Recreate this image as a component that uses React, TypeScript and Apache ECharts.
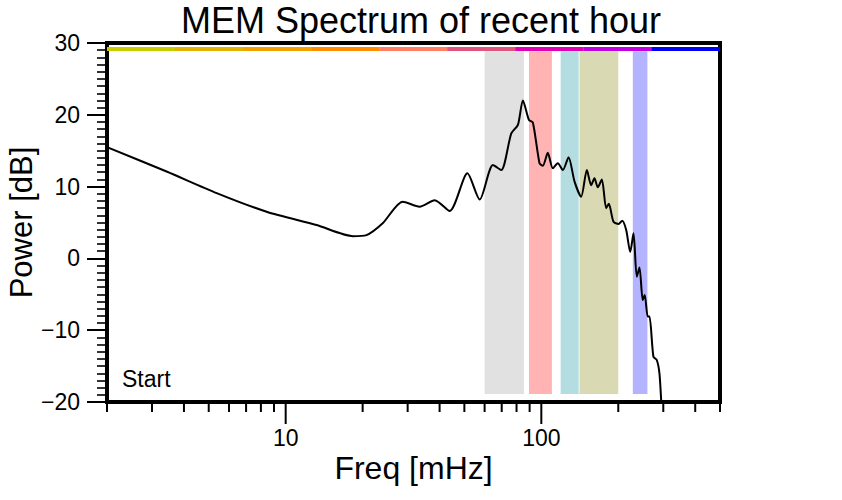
import React, { useEffect, useRef } from 'react';
import * as echarts from 'echarts';

// Spectrum curve (frequency in mHz, power in dB)
const freqMHz = [2, 3.42, 5.37, 8.42, 13.2, 18.35, 20.7, 23.96, 28.7, 33.4, 38.3, 43.8, 51.4, 57.4, 64.7, 69.7, 76.3, 81.0, 84.7, 89.4, 92.7, 98.4, 101.4, 106, 110.9, 116, 121.4, 127.8, 134.9, 143.2, 150.7, 156.7, 161.4, 166.3, 172.5, 179.3, 183.6, 191.6, 200.4, 207.2, 214.8, 222.7, 229.4, 236.3, 242.1, 249.3, 253.8, 260.8, 264.9, 274.5, 282.9, 289.8, 294.3, 297];
const powerDb = [15.5, 12.1, 9.1, 6.5, 4.65, 3.1, 3.25, 4.9, 7.9, 7.2, 8.1, 6.6, 11.85, 8.2, 13.0, 12.3, 17.4, 18.6, 22.0, 19.3, 18.9, 13.25, 12.9, 14.7, 12.55, 13.25, 12.3, 14.1, 10.7, 8.6, 12.3, 10.2, 11.15, 9.9, 11.0, 7.0, 7.6, 5.1, 4.8, 5.25, 3.95, 0.9, 3.5, -2.55, -1.25, -5.8, -5.1, -8.1, -8.1, -13.7, -14.15, -16.0, -19.7, -22];

// Shaded frequency bands
const bandLo = [60, 89.5, 119, 141, 228];
const bandHi = [85.5, 110, 140, 200, 260];
const bandColors = ['#e1e1e1', '#ffb3b3', '#b3dde0', '#d9d9b3', '#b3b3ff'];

// Coloured strip along the top
const stripEdges = [2, 3.69, 6.81, 12.57, 23.2, 42.8, 79.0, 145.8, 269.1, 500];
const stripColors = ['#c8cc00', '#e0b400', '#f2a200', '#ff8c00', '#ff7f66', '#e05580', '#e000b4', '#c000e0', '#0000f0'];

// Axis ticks
const xTickValues = [2, 3, 4, 5, 6, 7, 8, 9, 10, 20, 30, 40, 50, 60, 70, 80, 90, 100, 200, 300, 400, 500];
const xMajorTicks = [10, 100];
const xLabelValues = [10, 100];

const FONT = 'Liberation Sans, Arial, sans-serif';

export default function App() {
  const ref = useRef<HTMLDivElement>(null);
  useEffect(() => {
    if (!ref.current) return;
    const chart = echarts.init(ref.current, null, { renderer: 'svg' });
    const BAND_TOP = 28.85;
    const BAND_BOTTOM = -18.9;
    const STRIP_TOP = 29.45;
    const STRIP_BOTTOM = 28.9;
    chart.setOption({
      animation: false,
      backgroundColor: '#fff',
      title: {
        text: 'MEM Spectrum of recent hour',
        left: 'center',
        top: 1,
        padding: 0,
        textStyle: { fontSize: 36, fontWeight: 'normal', color: '#000', fontFamily: FONT, lineHeight: 38 },
      },
      grid: {
        left: 107, top: 43, width: 613, height: 359,
        show: true, borderColor: '#000', borderWidth: 4, backgroundColor: 'transparent',
        containLabel: false, outerBoundsMode: 'none',
      },
      xAxis: {
        type: 'log', logBase: 10, min: 2, max: 500,
        name: 'Freq [mHz]', nameLocation: 'middle', nameGap: 50, nameMoveOverlap: false,
        nameTextStyle: { fontSize: 32, color: '#000', fontFamily: FONT },
        axisLine: { show: true, onZero: false, lineStyle: { color: '#000', width: 3 } },
        axisTick: { show: false },
        minorTick: { show: false },
        splitLine: { show: false },
        axisLabel: {
          color: '#000', fontSize: 23, fontFamily: FONT, margin: 24,
          formatter: (v: number) => (xLabelValues.some((t) => Math.abs(t - v) < 1e-6) ? String(v) : ''),
          showMinLabel: true, showMaxLabel: true,
        },
      },
      yAxis: {
        type: 'value', min: -20, max: 30, interval: 10,
        name: 'Power [dB]', nameLocation: 'middle', nameGap: 70, nameMoveOverlap: false,
        nameTextStyle: { fontSize: 31, lineHeight: 31, color: '#000', fontFamily: FONT },
        axisLine: { show: true, onZero: false, lineStyle: { color: '#000', width: 3 } },
        axisTick: { show: true, length: 20, lineStyle: { color: '#000', width: 2 } },
        minorTick: { show: true, splitNumber: 10, length: 10, lineStyle: { color: '#000', width: 1.6 } },
        splitLine: { show: false },
        axisLabel: {
          color: '#000', fontSize: 23, fontFamily: FONT, margin: 27,
          formatter: (v: number) => String(v).replace('-', '\u2212'),
        },
      },
      graphic: [
        {
          type: 'text', left: 122, top: 367, z: 10,
          style: { text: 'Start', fontSize: 23, fill: '#000', fontFamily: FONT },
        },
      ],
      series: [
        {
          type: 'custom', z: 1, silent: true,
          data: bandLo.map((lo, i) => [lo, bandHi[i], i]),
          encode: { x: [0, 1], y: 2 },
          renderItem: (_p: any, api: any) => {
            const a = api.coord([api.value(0), BAND_TOP]);
            const b = api.coord([api.value(1), BAND_BOTTOM]);
            return {
              type: 'rect',
              shape: { x: a[0], y: a[1], width: b[0] - a[0], height: b[1] - a[1] },
              style: { fill: bandColors[api.value(2)] },
            };
          },
        },
        {
          type: 'custom', z: 2, silent: true,
          data: stripColors.map((_c, i) => [stripEdges[i], stripEdges[i + 1], i]),
          encode: { x: [0, 1], y: 2 },
          renderItem: (_p: any, api: any) => {
            const a = api.coord([api.value(0), STRIP_TOP]);
            const b = api.coord([api.value(1), STRIP_BOTTOM]);
            return {
              type: 'rect',
              shape: { x: a[0], y: a[1], width: b[0] - a[0], height: b[1] - a[1] },
              style: { fill: stripColors[api.value(2)] },
            };
          },
        },
        {
          type: 'custom', z: 5, silent: true, clip: false,
          data: xTickValues.map((v) => [v, -20]),
          encode: { x: 0, y: 1 },
          renderItem: (_p: any, api: any) => {
            const v = api.value(0);
            const p = api.coord([v, -20]);
            const len = xMajorTicks.includes(v) ? 22 : 10;
            return {
              type: 'line',
              shape: { x1: p[0], y1: p[1], x2: p[0], y2: p[1] + len },
              style: { stroke: '#000', lineWidth: 2 },
            };
          },
        },
        {
          type: 'line', z: 4, silent: true,
          data: freqMHz.map((f, i) => [f, powerDb[i]]),
          showSymbol: false, symbol: 'none',
          smooth: 0.25,
          lineStyle: { color: '#000', width: 2 },
          clip: true,
        },
      ],
    });
    return () => chart.dispose();
  }, []);
  return <div ref={ref} style={{ position: 'fixed', left: 0, top: 0, width: 842, height: 500 }} />;
}
